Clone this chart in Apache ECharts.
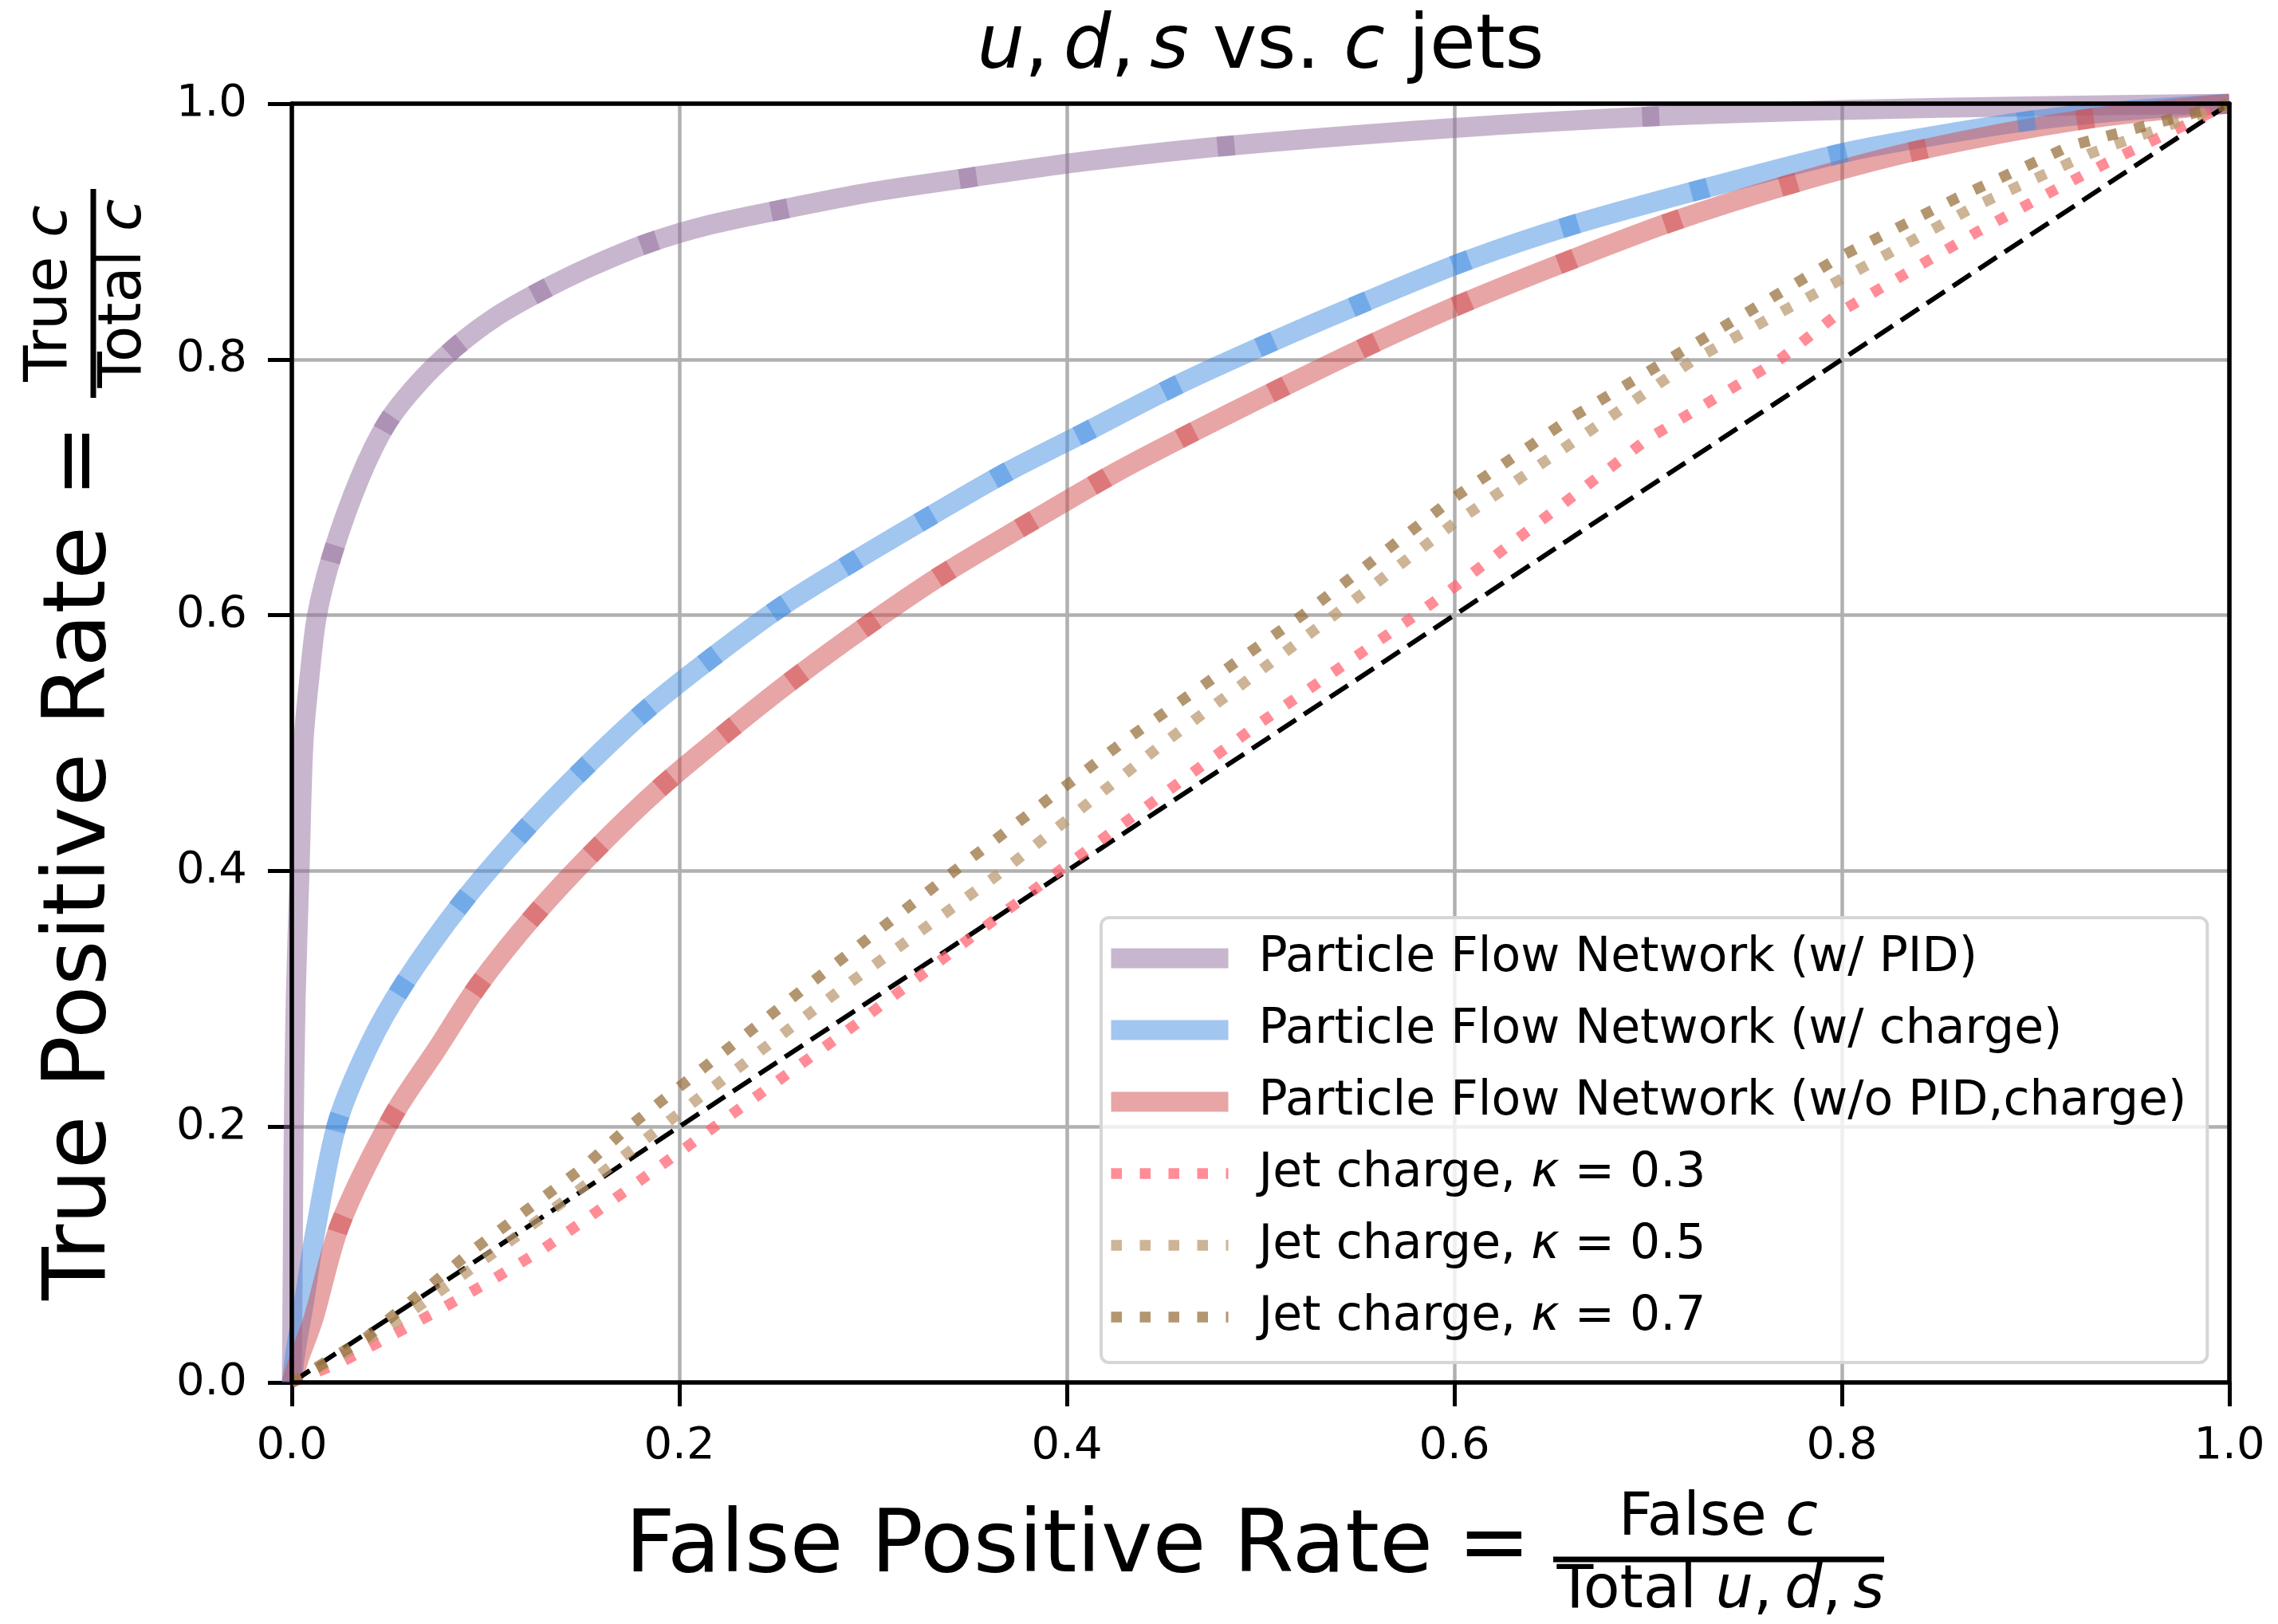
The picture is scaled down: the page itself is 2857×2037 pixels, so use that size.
<!DOCTYPE html>
<html>
<head>
<meta charset="utf-8">
<script src="https://cdn.jsdelivr.net/npm/echarts@6/dist/echarts.min.js"></script>
<style>
  html, body { margin: 0; padding: 0; background: #fff; }
  #chart { width: 2857px; height: 2037px; }
</style>
</head>
<body>
<div id="chart"></div>
<script>
// ROC points: [false positive rate, true positive rate]
var pfnPid = [[0,0],[0.0005,0.1],[0.001,0.2],[0.002,0.3],[0.004,0.4],[0.006,0.5],[0.009,0.55],[0.013,0.6],[0.021,0.648],[0.035,0.707],[0.049,0.75],[0.065,0.781],[0.084,0.809],[0.105,0.833],[0.128,0.853],[0.155,0.873],[0.184,0.891],[0.215,0.905],[0.252,0.917],[0.3,0.931],[0.349,0.942],[0.41,0.955],[0.483,0.967],[0.6,0.981],[0.702,0.99],[0.8,0.995],[0.9,0.998],[1,1]];
var pfnCharge = [[0,0],[0.002,0.025],[0.006,0.06],[0.012,0.117],[0.0235,0.203],[0.04,0.264],[0.058,0.312],[0.088,0.3755],[0.12,0.432],[0.1506,0.48],[0.183,0.526],[0.217,0.567],[0.253,0.607],[0.29,0.642],[0.329,0.677],[0.368,0.711],[0.412,0.745],[0.457,0.78],[0.504,0.8125],[0.554,0.845],[0.606,0.877],[0.663,0.906],[0.73,0.934],[0.804,0.9626],[0.86,0.978],[0.9016,0.9875],[0.95,0.995],[1,1]];
var pfnPlain = [[0,0],[0.004,0.02],[0.011,0.049],[0.025,0.124],[0.052,0.208],[0.075,0.261],[0.0965,0.311],[0.1256,0.366],[0.157,0.417],[0.19,0.465],[0.224,0.508],[0.259,0.55],[0.297,0.592],[0.335,0.631],[0.378,0.67],[0.4257,0.712],[0.4623,0.741],[0.507,0.775],[0.556,0.811],[0.603,0.843],[0.657,0.876],[0.711,0.907],[0.771,0.936],[0.838,0.963],[0.924,0.9875],[1,1]];
var jetK03 = [[0,0],[0.027,0.017],[0.073,0.054],[0.1017,0.0786],[0.129,0.1036],[0.1527,0.1285],[0.2,0.18],[0.292,0.281],[0.396,0.4],[0.5,0.516],[0.58,0.6],[0.6,0.622],[0.7,0.738],[0.768,0.8],[0.8,0.838],[0.869,0.899],[0.908,0.931],[0.937,0.954],[1,1]];
var jetK05 = [[0,0],[0.03,0.025],[0.0566,0.05],[0.114,0.112],[0.161,0.165],[0.19,0.199],[0.283,0.307],[0.367,0.4],[0.45,0.5],[0.538,0.6],[0.6,0.672],[0.66,0.734],[0.724,0.8],[0.8,0.863],[0.869,0.92],[0.928,0.961],[1,1]];
var jetK07 = [[0,0],[0.0387,0.0355],[0.0716,0.076],[0.0935,0.1035],[0.117,0.13],[0.151,0.169],[0.174,0.2],[0.271,0.316],[0.342,0.4],[0.43,0.502],[0.5216,0.6],[0.6,0.692],[0.66,0.754],[0.7106,0.8],[0.8,0.881],[0.859,0.926],[0.918,0.967],[1,1]];
var diagonal = [[0,0],[1,1]];

var tickValues = [0, 0.2, 0.4, 0.6, 0.8, 1.0];
var names = [
  'Particle Flow Network (w/ PID)',
  'Particle Flow Network (w/ charge)',
  'Particle Flow Network (w/o PID,charge)',
  'Jet charge, κ = 0.3',
  'Jet charge, κ = 0.5',
  'Jet charge, κ = 0.7'
];

var FONT = "'DejaVu Sans'";
var myChart = echarts.init(document.getElementById('chart'), null, { renderer: 'canvas' });

// thick translucent line for the networks, dotted lines for jet charge
function curve(name, data, color, width, opacity, dash, offset, smooth) {
  return {
    name: name,
    type: 'line',
    data: data,
    symbol: 'none',
    showSymbol: false,
    smooth: smooth,
    silent: true,
    clip: true,
    emphasis: { disabled: true },
    lineStyle: {
      color: color,
      width: width,
      opacity: opacity,
      type: dash || 'solid',
      dashOffset: offset || 0,
      join: 'round'
    },
    z: 2
  };
}

// the darker overlap patches: short dashes spaced along the path (pixels)
function patchDash(gaps) {
  var d = [];
  gaps.forEach(function (g) { d.push(22, g - 22); });
  d.push(22, 6000);
  return d;
}

function frameAxis(pos) {
  return {
    type: 'value', position: pos, min: 0, max: 1, z: 5,
    axisLine: { show: true, onZero: false, lineStyle: { color: '#000', width: 5.5 } },
    axisTick: { show: false }, axisLabel: { show: false }, splitLine: { show: false }
  };
}

function mainAxis(pos, margin) {
  return {
    type: 'value', position: pos,
    min: tickValues[0], max: tickValues[tickValues.length - 1],
    interval: tickValues[1] - tickValues[0],
    z: 0,
    axisLine: { show: false, onZero: false },
    axisTick: { show: true, inside: false, length: 30, lineStyle: { color: '#000', width: 5 } },
    axisLabel: {
      margin: margin, fontSize: 56, fontFamily: FONT, color: '#000',
      formatter: function (v) { return v.toFixed(1); }
    },
    splitLine: { show: true, lineStyle: { color: '#b0b0b0', width: 4.5 } }
  };
}

var PURPLE = 'rgb(145,109,157)', BLUE = 'rgb(67,141,225)', RED = 'rgb(209,75,77)';
var series = [
  curve(names[0], pfnPid, PURPLE, 25, 0.5, null, 0, 0.3),
  curve(names[1], pfnCharge, BLUE, 25, 0.5, null, 0, 0.3),
  curve(names[2], pfnPlain, RED, 25, 0.5, null, 0, 0.3),
  curve('pid-overlap', pfnPid.slice(7), PURPLE, 25, 0.5,
        patchDash([177, 128, 129, 149, 169, 240, 326, 534]), -69, 0.3),
  curve('charge-overlap', pfnCharge.slice(3), BLUE, 25, 0.5,
        patchDash([189, 131, 117, 107, 106, 106, 107, 107, 109, 109, 118, 122, 131, 128, 137, 144, 169, 179, 240]), -130, 0.3),
  curve('plain-overlap', pfnPlain.slice(2), RED, 25, 0.5,
        patchDash([150, 196, 115, 111, 121, 103, 108, 113, 113, 121, 106, 124, 128, 126, 129, 141, 142, 153, 168, 213]), -114, 0.3),
  curve('diagonal', diagonal, '#000', 6, 1, [27, 12], 0, false),
  curve(names[3], jetK03, 'rgb(255,102,115)', 13.5, 0.75, [13.5, 22.5], 0, false),
  curve(names[4], jetK05, 'rgb(188,155,115)', 13.5, 0.75, [13.5, 22.5], 0, false),
  curve(names[5], jetK07, 'rgb(153,115,64)', 13.5, 0.75, [13.5, 22.5], 0, false)
];

var legendData = names.map(function (n, i) {
  return { name: n, lineStyle: { width: i < 3 ? 25 : 13.5 } };
});

function txt(x, y, text, size, align, rot) {
  return {
    type: 'text', x: x, y: y, rotation: rot || 0, z: 10,
    style: {
      text: text, fontSize: size, fontFamily: FONT, fill: '#000',
      align: align, verticalAlign: 'middle',
      rich: { i: { fontStyle: 'italic', fontSize: size, fontFamily: FONT, fill: '#000' } }
    }
  };
}
var ROT = Math.PI / 2;

myChart.setOption({
  animation: false,
  backgroundColor: '#fff',
  grid: { left: 366, top: 130, width: 2430, height: 1604, containLabel: false, outerBoundsMode: 'none', show: false },
  xAxis: [mainAxis('bottom', 52), frameAxis('bottom'), frameAxis('top')],
  yAxis: [mainAxis('left', 56), frameAxis('left'), frameAxis('right')],
  legend: {
    orient: 'vertical',
    left: 1381,
    top: 1151,
    padding: [21, 26, 27, 0],
    itemWidth: 147,
    itemHeight: 26,
    itemGap: 30,
    selectedMode: false,
    backgroundColor: 'rgba(255,255,255,0.8)',
    borderColor: '#d6d6d6',
    borderWidth: 4,
    borderRadius: 10,
    itemStyle: { opacity: 0 },
    textStyle: {
      fontFamily: FONT, fontSize: 60, color: '#000', lineHeight: 60,
      rich: {
        sp: { width: 33, fontSize: 60, lineHeight: 60 },
        i: { fontStyle: 'italic', fontFamily: FONT, fontSize: 60, lineHeight: 60, color: '#000' }
      }
    },
    formatter: function (name) { return '{sp| }' + name.replace('κ', '{i|κ}'); },
    data: legendData,
    z: 6
  },
  graphic: [
    // title
    txt(1581, 61, '{i|u},\u2009{i|d},\u2009{i|s} vs. {i|c} jets', 94, 'center'),
    // x-axis name with fraction
    txt(784, 1943, 'False Positive Rate', 109, 'left'),
    txt(1874, 1943, '=', 109, 'center'),
    txt(2155, 1906, 'False {i|c}', 74, 'center'),
    { type: 'line', z: 10, shape: { x1: 1948, y1: 1956, x2: 2363, y2: 1956 }, style: { stroke: '#000', lineWidth: 7 } },
    txt(2158, 1997, 'Total {i|u},\u2009{i|d},\u2009{i|s}', 75, 'center'),
    // y-axis name with fraction
    txt(103, 1631, 'True Positive Rate', 109, 'left', ROT),
    txt(103, 578, '=', 109, 'center', ROT),
    txt(64, 368, 'True {i|c}', 74, 'center', ROT),
    { type: 'line', z: 10, shape: { x1: 117, y1: 237, x2: 117, y2: 499 }, style: { stroke: '#000', lineWidth: 7 } },
    txt(157, 368, 'Total {i|c}', 74, 'center', ROT)
  ],
  series: series
});
</script>
</body>
</html>
